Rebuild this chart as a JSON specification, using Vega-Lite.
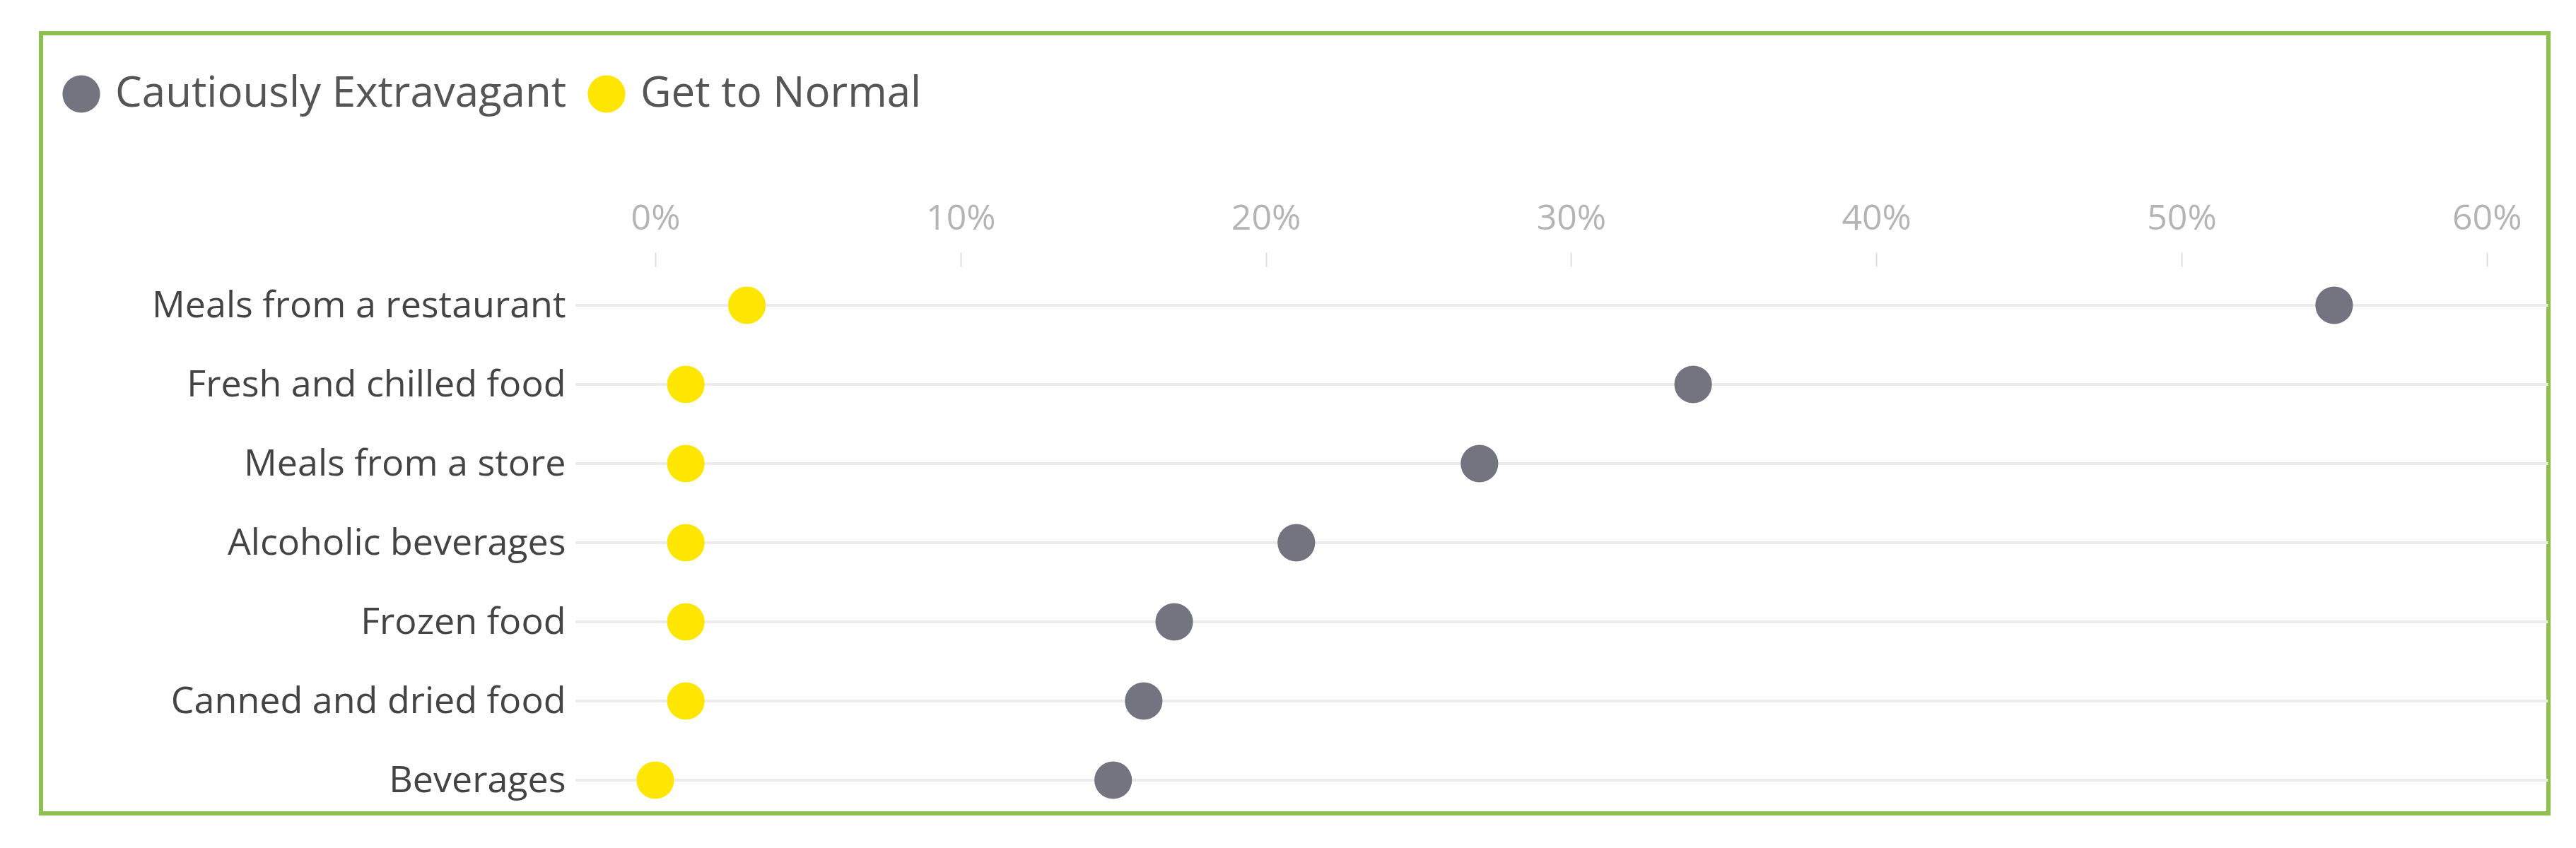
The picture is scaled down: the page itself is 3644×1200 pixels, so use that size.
{
  "$schema": "https://vega.github.io/schema/vega-lite/v6.json",
  "autosize": {"type": "none"},
  "padding": {"left": 58, "top": 47, "right": 39, "bottom": 49},
  "width": 3547,
  "height": 1104,
  "background": "white",
  "config": {
    "view": {"stroke": "#8DC04F", "strokeWidth": 6},
    "font": "Open Sans"
  },
  "data": {
    "values": [
      {"category": "Meals from a restaurant", "series": "Cautiously Extravagant", "value": 0.55},
      {"category": "Fresh and chilled food", "series": "Cautiously Extravagant", "value": 0.34},
      {"category": "Meals from a store", "series": "Cautiously Extravagant", "value": 0.27},
      {"category": "Alcoholic beverages", "series": "Cautiously Extravagant", "value": 0.21},
      {"category": "Frozen food", "series": "Cautiously Extravagant", "value": 0.17},
      {"category": "Canned and dried food", "series": "Cautiously Extravagant", "value": 0.16},
      {"category": "Beverages", "series": "Cautiously Extravagant", "value": 0.15},
      {"category": "Meals from a restaurant", "series": "Get to Normal", "value": 0.03},
      {"category": "Fresh and chilled food", "series": "Get to Normal", "value": 0.01},
      {"category": "Meals from a store", "series": "Get to Normal", "value": 0.01},
      {"category": "Alcoholic beverages", "series": "Get to Normal", "value": 0.01},
      {"category": "Frozen food", "series": "Get to Normal", "value": 0.01},
      {"category": "Canned and dried food", "series": "Get to Normal", "value": 0.01},
      {"category": "Beverages", "series": "Get to Normal", "value": 0.0}
    ]
  },
  "encoding": {
    "y": {
      "field": "category",
      "type": "nominal",
      "sort": null,
      "scale": {"type": "point", "range": [385, 1057], "padding": 0},
      "axis": {
        "orient": "left",
        "offset": -757,
        "title": null,
        "domain": false,
        "ticks": false,
        "grid": false,
        "labelFontSize": 52,
        "labelColor": "#444444",
        "labelPadding": 15,
        "labelLimit": 2000
      }
    }
  },
  "layer": [
    {
      "mark": {"type": "rule", "color": "#ececec", "strokeWidth": 4},
      "encoding": {
        "x": {"datum": -0.026, "type": "quantitative"},
        "x2": {"datum": 0.62}
      }
    },
    {
      "mark": {"type": "circle", "size": 2830, "opacity": 1},
      "encoding": {
        "x": {
          "field": "value",
          "type": "quantitative",
          "scale": {"domain": [-0.20125, 0.6202], "nice": false, "zero": false},
          "axis": {
            "orient": "top",
            "offset": -330,
            "title": null,
            "values": [0, 0.1, 0.2, 0.3, 0.4, 0.5, 0.6],
            "format": ".0%",
            "domain": false,
            "grid": false,
            "ticks": true,
            "tickSize": 20,
            "tickColor": "#dddddd",
            "tickWidth": 2,
            "labelFontSize": 50,
            "labelColor": "#b4b4b4",
            "labelPadding": 23,
            "labelFlush": false,
            "labelOverlap": false
          }
        },
        "color": {
          "field": "series",
          "type": "nominal",
          "scale": {"domain": ["Cautiously Extravagant", "Get to Normal"], "range": ["#747480", "#FFE600"]},
          "legend": {
            "orient": "none",
            "legendX": 27,
            "legendY": 56,
            "direction": "horizontal",
            "title": null,
            "symbolType": "circle",
            "symbolSize": 2830,
            "symbolStrokeWidth": 0,
            "labelFontSize": 60,
            "labelColor": "#555555",
            "labelOffset": 18,
            "columnPadding": 26,
            "labelLimit": 2000,
            "padding": 0
          }
        }
      }
    }
  ]
}
